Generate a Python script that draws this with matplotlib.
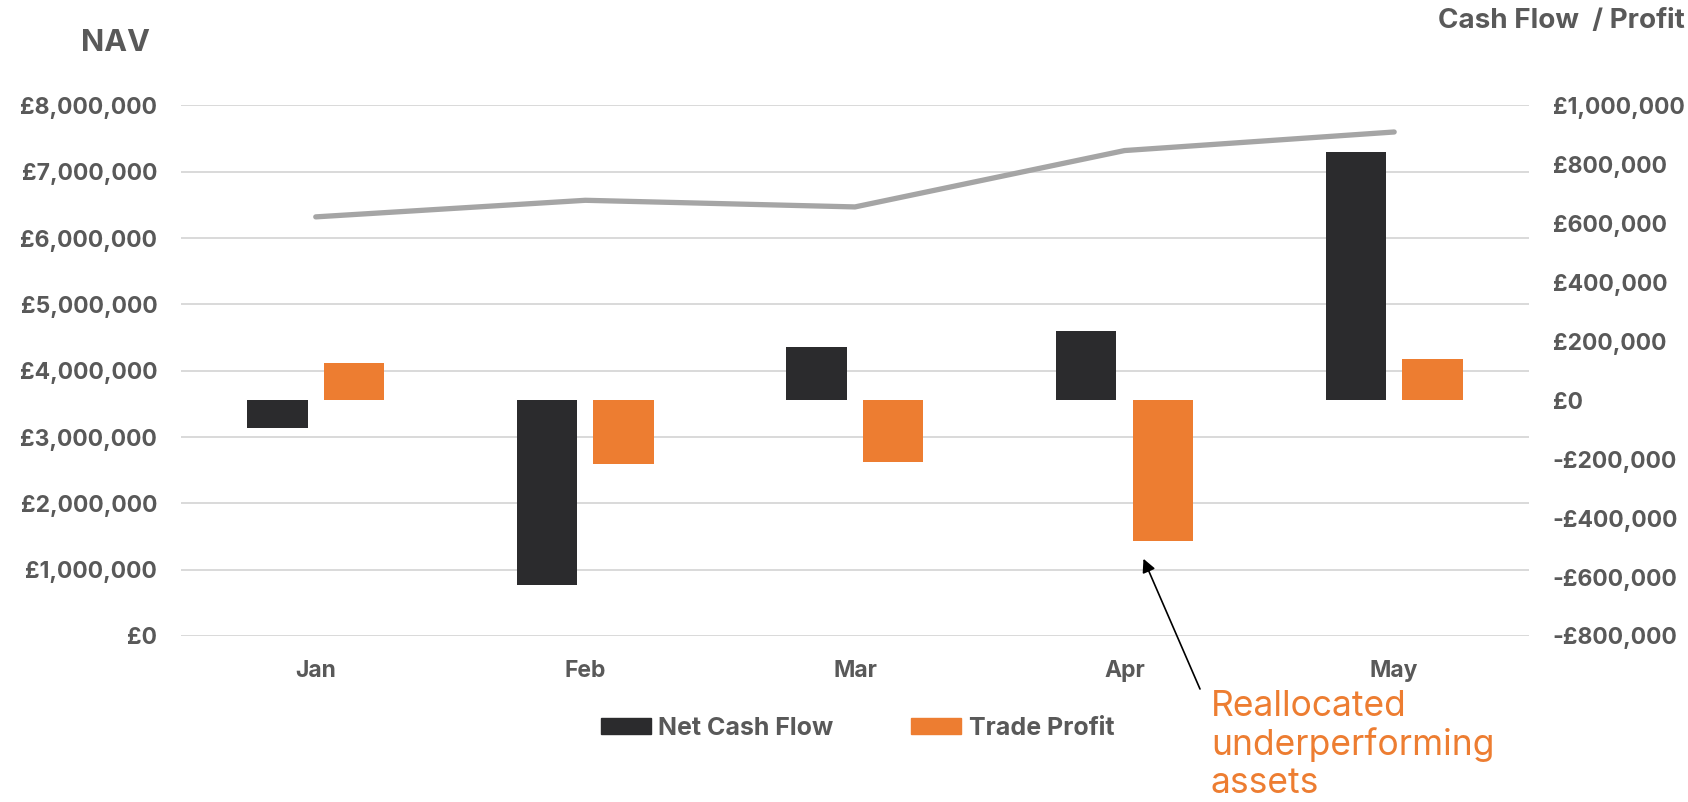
import matplotlib.pyplot as plt
import numpy as np
from matplotlib.patches import Patch
from matplotlib.ticker import FuncFormatter

# Data
months = ['Jan', 'Feb', 'Mar', 'Apr', 'May']
nav = [6320000, 6570000, 6470000, 7320000, 7600000]
net_cash_flow = [-93000, -626000, 182000, 235000, 842000]
trade_profit = [127000, -215000, -208000, -477000, 141000]

nav_ticks = np.arange(0, 8000001, 1000000)
cash_ticks = np.arange(-800000, 1000001, 200000)

GREY_TEXT = '#595959'
DARK = '#2B2B2D'
ORANGE = '#ED7D31'
LINE = '#A5A5A5'

plt.rcParams['font.family'] = ['Inter', 'DejaVu Sans']


def pounds(v, pos=None):
    v = int(round(v))
    if v < 0:
        return '-£{:,}'.format(-v)
    return '£{:,}'.format(v)


def nav_chart():
    fig = plt.figure(figsize=(16.88, 8.02), dpi=100)
    ax = fig.add_axes([0.1072, 0.207, 0.7986, 0.6615])
    ax2 = ax.twinx()

    x = np.arange(len(months))
    width = 0.224
    offset = 0.142

    # NAV line on the left axis
    ax.plot(x, nav, color=LINE, lw=3.8, solid_capstyle='round', zorder=3)
    ax.set_xlim(-0.5, len(months) - 0.5)
    ax.set_ylim(0, 8000000)
    ax.set_yticks(nav_ticks)
    ax.yaxis.set_major_formatter(FuncFormatter(pounds))
    ax.yaxis.grid(True, color='#D9D9D9', lw=1.4)
    ax.set_axisbelow(True)
    ax.set_xticks(x)
    ax.set_xticklabels(months)

    # cash flow / profit bars on the right axis
    ax2.bar(x - offset, net_cash_flow, width, color=DARK, zorder=2)
    ax2.bar(x + offset, trade_profit, width, color=ORANGE, zorder=2)
    ax2.set_ylim(-800000, 1000000)
    ax2.set_yticks(cash_ticks)
    ax2.yaxis.set_major_formatter(FuncFormatter(pounds))

    for a in (ax, ax2):
        for s in a.spines.values():
            s.set_visible(False)
        a.tick_params(length=0, labelsize=16.5, labelcolor=GREY_TEXT, pad=17)
        for lab in a.get_xticklabels() + a.get_yticklabels():
            lab.set_fontweight('bold')

    fig.text(0.0687, 0.946, 'NAV', ha='center', va='center', fontsize=22,
             fontweight='bold', color=GREY_TEXT)
    fig.text(0.998, 0.974, 'Cash Flow  / Profit', ha='right', va='center',
             fontsize=20, fontweight='bold', color=GREY_TEXT)

    handles = [Patch(color=DARK, label='Net Cash Flow'),
               Patch(color=ORANGE, label='Trade Profit')]
    leg = fig.legend(handles=handles, loc='center', bbox_to_anchor=(0.508, 0.092),
                     ncol=2, frameon=False, fontsize=18, handlelength=2.0,
                     handleheight=0.65, handletextpad=0.3, columnspacing=3.1)
    for t in leg.get_texts():
        t.set_color(GREY_TEXT)
        t.set_fontweight('bold')

    # annotation for the April trade loss
    fig.text(0.7174, 0.140, 'Reallocated\nunderperforming\nassets', ha='left', va='top',
             fontsize=25.5, color=ORANGE, linespacing=1.17)
    ax2.annotate('', xy=(3.07, -538000), xytext=(1200 / 1688, 1 - 689 / 802),
                 textcoords='figure fraction', annotation_clip=False,
                 arrowprops=dict(arrowstyle='-|>', color='black', lw=1.2,
                                 mutation_scale=20, shrinkA=0, shrinkB=0))

    fig.savefig('out.png', dpi=100)


def main():
    nav_chart()


main()
